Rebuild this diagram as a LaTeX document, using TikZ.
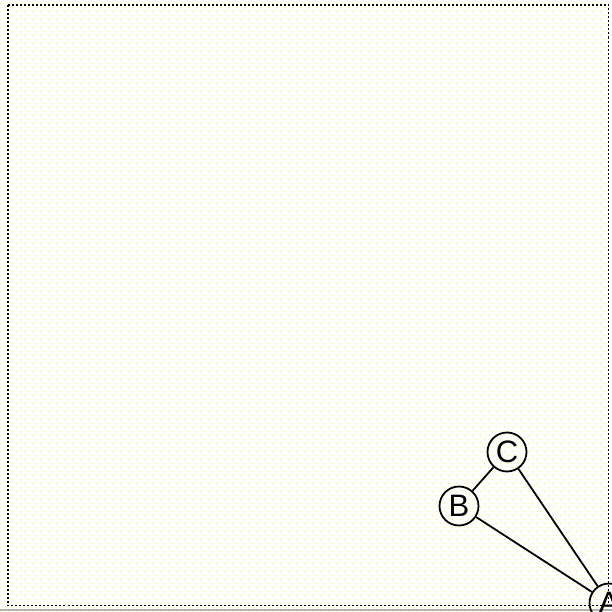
\documentclass[tikz,border=0pt]{standalone}
\usepackage{fontspec}
\setmainfont{Liberation Sans}
\usetikzlibrary{patterns}
\pgfdeclarepatternformonly{yellowdots}{\pgfpointorigin}{\pgfqpoint{8pt}{8pt}}{\pgfqpoint{8pt}{8pt}}{%
  \pgfpathcircle{\pgfqpoint{2pt}{2pt}}{0.75pt}
  \pgfpathcircle{\pgfqpoint{6pt}{6pt}}{0.75pt}
  \pgfusepath{fill}}
\definecolor{dotyellow}{RGB}{255,250,60}

\begin{document}
\begin{tikzpicture}[x=1pt,y=-1pt,
    vertex/.style={circle, draw, line width=1.8pt, minimum size=39pt, inner sep=0pt, font=\fontsize{31}{31}\selectfont},
    edge/.style={line width=1.8pt}]
      \useasboundingbox (0,0) rectangle (612,612);
      \clip (0,0) rectangle (612,612);
      \fill[pattern=yellowdots, pattern color=dotyellow] (0,0) rectangle (608,612);
      \draw[gray!60, line width=2pt] (0,610) -- (612,610);
      \draw[line width=1.6pt, dash pattern=on 2pt off 2pt] (8,5) rectangle (608.5,605.5);
      \node[vertex] (C) at (507,452) {C};
      \node[vertex] (B) at (459,506) {B};
      \node[vertex] (A) at (609,603) {A};
      \draw[edge] (B) -- (C);
      \draw[edge] (B) -- (A);
      \draw[edge] (C) -- (A);
  \end{tikzpicture}
\end{document}
